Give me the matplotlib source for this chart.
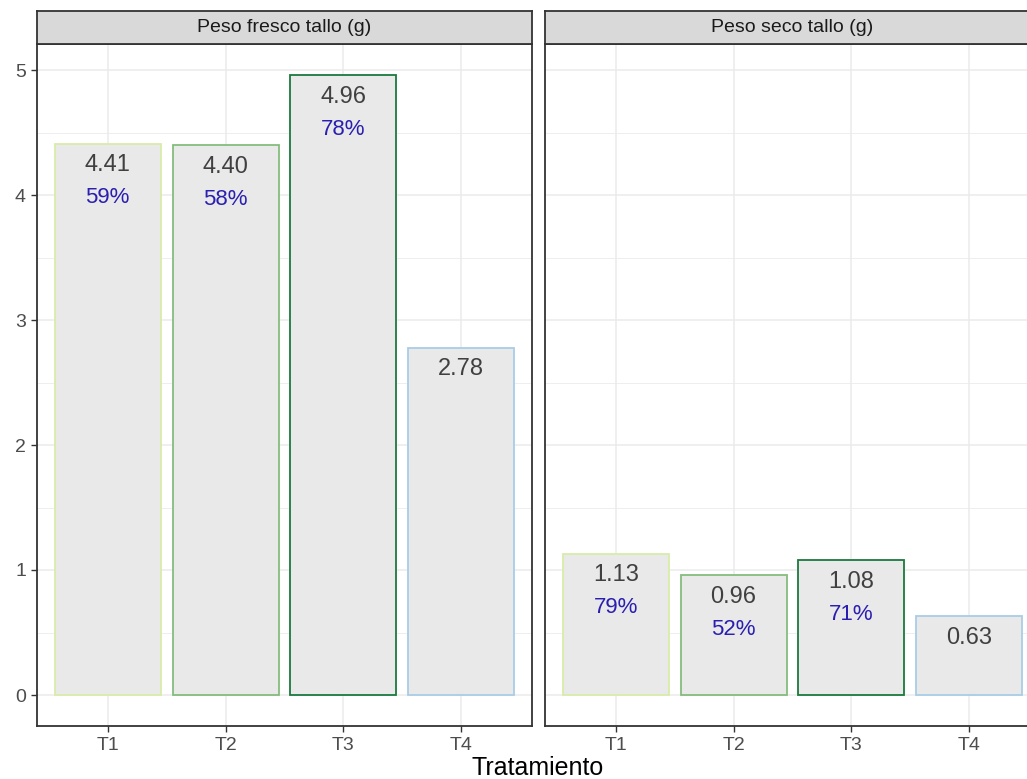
import matplotlib.pyplot as plt
from matplotlib.ticker import MultipleLocator

plt.rcParams["font.family"] = ["Liberation Sans", "DejaVu Sans"]

# data
tratamientos = ["T1", "T2", "T3", "T4"]
paneles = ["Peso fresco tallo (g)", "Peso seco tallo (g)"]
fresco = [4.41, 4.40, 4.96, 2.78]
seco = [1.13, 0.96, 1.08, 0.63]
pct_fresco = ["59%", "58%", "78%", ""]
pct_seco = ["79%", "52%", "71%", ""]

bordes = ["#d9ecaa", "#84bd7e", "#1b7a3e", "#a9cde6"]
relleno = "#e8e9e8"

fig = plt.figure(figsize=(10.27, 7.79), dpi=100)

W, H = 1027, 779
panel_w = 495
y_top, y_bot = 44, 726
strip_top = 11
lefts = [37, 545]

ymin, ymax = -0.248, 4.96 * 1.05

for i, (titulo, valores, pcts) in enumerate(zip(paneles, [fresco, seco], [pct_fresco, pct_seco])):
    ax = fig.add_axes([lefts[i] / W, 1 - y_bot / H, panel_w / W, (y_bot - y_top) / H])
    x = range(1, len(tratamientos) + 1)

    ax.bar(x, valores, width=0.9, color=relleno, edgecolor=bordes, linewidth=1.3, zorder=2)

    for xi, v, p in zip(x, valores, pcts):
        ax.annotate(f"{v:.2f}", (xi, v), xytext=(0, -15.5), textcoords="offset points",
                    ha="center", va="center", fontsize=17, color="#404040", zorder=3)
        if p:
            ax.annotate(p, (xi, v), xytext=(0, -39), textcoords="offset points",
                        ha="center", va="center", fontsize=16, color="#2a1fb0", zorder=3)

    ax.set_xlim(0.4, 4.6)
    ax.set_ylim(ymin, ymax)
    ax.set_xticks(list(x))
    ax.set_xticklabels(tratamientos)
    ax.yaxis.set_major_locator(MultipleLocator(1))
    ax.yaxis.set_minor_locator(MultipleLocator(0.5))
    ax.grid(which="major", color="#ebebeb", linewidth=1.1, zorder=0)
    ax.grid(which="minor", axis="y", color="#ebebeb", linewidth=0.6, zorder=0)
    ax.set_axisbelow(True)

    for s in ax.spines.values():
        s.set_color("#333333")
        s.set_linewidth(1.3)

    ax.tick_params(axis="both", which="major", length=4, width=1, color="#333333",
                   labelsize=14, labelcolor="#4d4d4d", pad=4)
    ax.tick_params(axis="y", which="minor", length=0)
    if i == 1:
        ax.tick_params(axis="y", which="both", left=False, labelleft=False)

    # strip
    sax = fig.add_axes([lefts[i] / W, 1 - y_top / H, panel_w / W, (y_top - strip_top) / H])
    sax.set_facecolor("#d9d9d9")
    sax.set_xticks([])
    sax.set_yticks([])
    for s in sax.spines.values():
        s.set_color("#333333")
        s.set_linewidth(1.3)
    sax.text(0.5, 0.5, titulo, ha="center", va="center", fontsize=14, color="#1a1a1a",
             transform=sax.transAxes)

fig.text(538 / W, 1 - 768 / H, "Tratamiento", ha="center", va="center", fontsize=18, color="black")

plt.savefig("out.png", dpi=100)
